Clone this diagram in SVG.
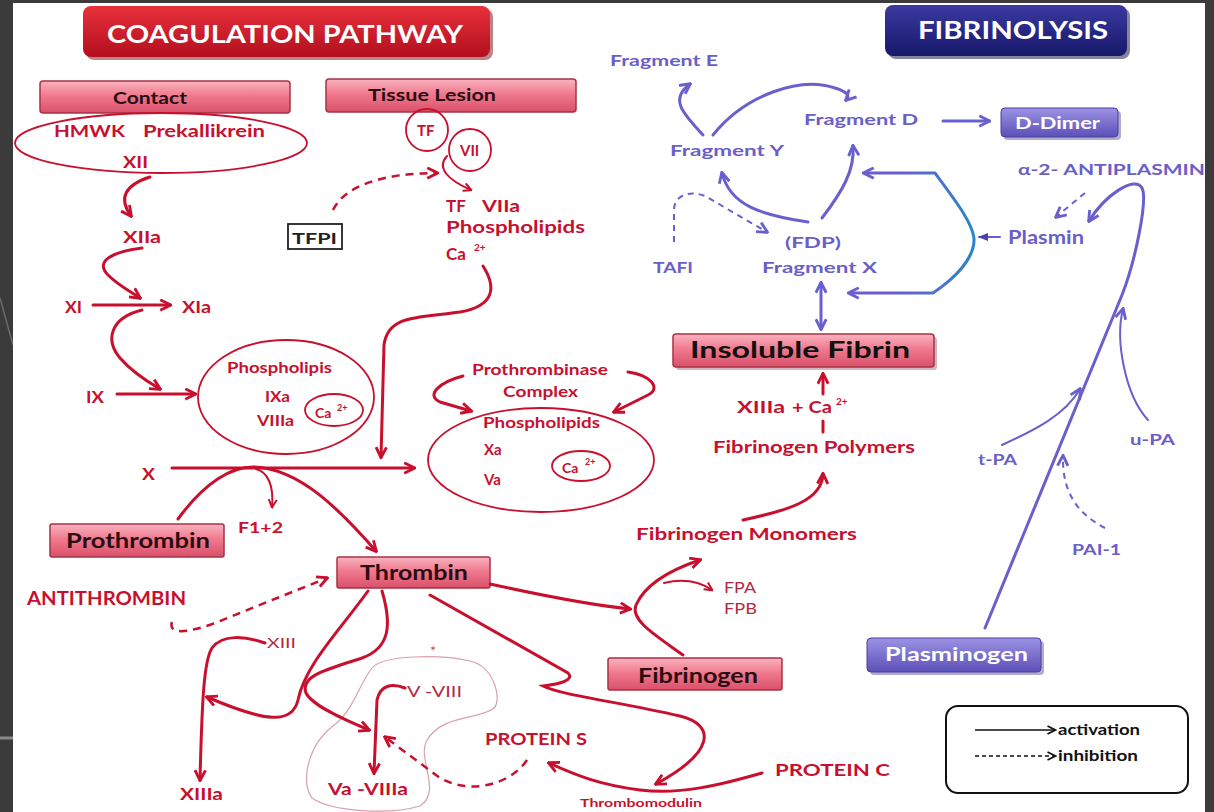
<svg xmlns="http://www.w3.org/2000/svg" width="1214" height="812" viewBox="0 0 1214 812">
<defs>
<linearGradient id="gPink" x1="0" y1="0" x2="0" y2="1"><stop offset="0" stop-color="#f9b3bf"/><stop offset="0.45" stop-color="#f07a8f"/><stop offset="1" stop-color="#d9506a"/></linearGradient>
<linearGradient id="gRed" x1="0" y1="0" x2="0" y2="1"><stop offset="0" stop-color="#e8303c"/><stop offset="1" stop-color="#b30f1e"/></linearGradient>
<linearGradient id="gNavy" x1="0" y1="0" x2="0" y2="1"><stop offset="0" stop-color="#3a3aa0"/><stop offset="1" stop-color="#17176a"/></linearGradient>
<linearGradient id="gPurp" x1="0" y1="0" x2="0" y2="1"><stop offset="0" stop-color="#9c92e4"/><stop offset="1" stop-color="#5c50b8"/></linearGradient>
<linearGradient id="gBr" gradientUnits="userSpaceOnUse" x1="900" y1="0" x2="975" y2="0"><stop offset="0" stop-color="#6a5fcf"/><stop offset="1" stop-color="#2a86c8"/></linearGradient>
<marker id="aR" viewBox="0 0 10 10" refX="8.5" refY="5" markerWidth="13" markerHeight="13" markerUnits="userSpaceOnUse" orient="auto-start-reverse"><path d="M1,1 L9,5 L1,9" fill="none" stroke="#c8102e" stroke-width="2.2" stroke-linejoin="miter"/></marker>
<marker id="aRs" viewBox="0 0 10 10" refX="8.5" refY="5" markerWidth="10" markerHeight="10" markerUnits="userSpaceOnUse" orient="auto"><path d="M1,1 L9,5 L1,9" fill="none" stroke="#c8102e" stroke-width="2"/></marker>
<marker id="aP" viewBox="0 0 10 10" refX="8.5" refY="5" markerWidth="13" markerHeight="13" markerUnits="userSpaceOnUse" orient="auto-start-reverse"><path d="M1,1 L9,5 L1,9" fill="none" stroke="#6a5fcf" stroke-width="2.2"/></marker>
<marker id="aPf" viewBox="0 0 10 10" refX="9" refY="5" markerWidth="10" markerHeight="10" markerUnits="userSpaceOnUse" orient="auto"><path d="M0,1 L10,5 L0,9 Z" fill="#4a40b0"/></marker>
<marker id="aK" viewBox="0 0 10 10" refX="8.5" refY="5" markerWidth="10" markerHeight="10" markerUnits="userSpaceOnUse" orient="auto"><path d="M1,1 L9,5 L1,9" fill="none" stroke="#111" stroke-width="1.8"/></marker>
</defs>
<style>
text{font-family:Lato,"Liberation Sans",sans-serif;font-weight:bold}
.r{fill:#c8102e;font-size:17px}
.rs{fill:#c8102e;font-size:15px}
.rt{fill:#b52a3e;font-size:14px;font-weight:normal}
.p{fill:#6a5ec8;font-size:16px}
.dk{fill:#2a0d12;font-size:18px}
.sup{fill:#c8102e;font-size:9px}
.w{fill:#fff}
.bx{fill:url(#gPink);stroke:#a83246;stroke-width:1.5}
.l{fill:none;stroke:#c8102e;stroke-width:3;stroke-linecap:round}
.lt{fill:none;stroke:#c8102e;stroke-width:2;stroke-linecap:round}
.ld{fill:none;stroke:#c8102e;stroke-width:2.5;stroke-dasharray:8 6}
.pl{fill:none;stroke:#6a5fcf;stroke-width:3;stroke-linecap:round}
.plt{fill:none;stroke:#6a5fcf;stroke-width:2;stroke-linecap:round}
.pd{fill:none;stroke:#6a5fcf;stroke-width:2;stroke-dasharray:6 5}
.el{fill:none;stroke:#c8102e;stroke-width:1.8}
</style>
<rect x="0" y="0" width="1214" height="812" fill="#3b3b3b"/>
<path d="M0,298 L13,345" stroke="#6a6a6a" stroke-width="1.5"/>
<path d="M0,738 L13,738" stroke="#8a8a8a" stroke-width="3"/>
<rect x="13" y="3" width="1192" height="809" fill="#ffffff"/>

<g id="title-coag"><rect x="86" y="9" width="407" height="51" rx="8" fill="#7a0a14" opacity="0.5"/><rect x="83" y="6" width="407" height="51" rx="8" fill="url(#gRed)"/><text class="w" x="107" y="43" style="font-size:25px" textLength="356" lengthAdjust="spacingAndGlyphs">COAGULATION PATHWAY</text></g>
<g id="title-fib"><rect x="888" y="8" width="242" height="51" rx="8" fill="#0a0a3a" opacity="0.5"/><rect x="885" y="5" width="242" height="51" rx="8" fill="url(#gNavy)"/><text class="w" x="918" y="39" style="font-size:24px" textLength="190" lengthAdjust="spacingAndGlyphs">FIBRINOLYSIS</text></g>

<g id="contact"><rect class="bx" x="40" y="81" width="250" height="32" rx="3"/><text class="dk" x="113" y="104" style="font-size:17px" textLength="74" lengthAdjust="spacingAndGlyphs">Contact</text></g>
<g id="contact-group"><ellipse class="el" cx="161" cy="143" rx="146" ry="30"/><text class="r" x="54" y="137" textLength="71" lengthAdjust="spacingAndGlyphs">HMWK</text><text class="r" x="143" y="137" textLength="122" lengthAdjust="spacingAndGlyphs">Prekallikrein</text><text class="r" x="123" y="168" textLength="25" lengthAdjust="spacingAndGlyphs">XII</text></g>
<g id="xiia"><text class="r" x="123" y="243" textLength="38" lengthAdjust="spacingAndGlyphs">XIIa</text></g>
<g id="xi"><text class="r" x="65" y="313" textLength="17" lengthAdjust="spacingAndGlyphs">XI</text></g>
<g id="xia"><text class="r" x="182" y="313" textLength="29" lengthAdjust="spacingAndGlyphs">XIa</text></g>
<g id="ix"><text class="r" x="86" y="403" textLength="18" lengthAdjust="spacingAndGlyphs">IX</text></g>
<g id="tenase"><ellipse class="el" cx="286" cy="397" rx="88" ry="57"/><text class="rs" x="227" y="373" textLength="105" lengthAdjust="spacingAndGlyphs">Phospholipis</text><text class="rs" x="265" y="402" textLength="25" lengthAdjust="spacingAndGlyphs">IXa</text><text class="rs" x="257" y="426" textLength="37" lengthAdjust="spacingAndGlyphs">VIIIa</text><ellipse class="el" cx="334" cy="410" rx="29" ry="16"/><text class="rs" x="315" y="418" style="font-size:14px">Ca</text><text class="sup" x="337" y="411">2+</text></g>
<g id="x"><text class="r" x="142" y="480" textLength="13" lengthAdjust="spacingAndGlyphs">X</text></g>
<g id="tissue"><rect class="bx" x="326" y="79" width="250" height="33" rx="3"/><text class="dk" x="368" y="101" style="font-size:17px" textLength="128" lengthAdjust="spacingAndGlyphs">Tissue Lesion</text></g>
<g id="tf"><circle class="el" cx="427" cy="130" r="21"/><text class="rs" x="417" y="136">TF</text></g>
<g id="vii"><circle class="el" cx="470" cy="150" r="21"/><text class="rs" x="460" y="156">VII</text></g>
<g id="tfviia"><text class="r" x="446" y="212">TF</text><text class="r" x="482" y="212" textLength="38" lengthAdjust="spacingAndGlyphs">VIIa</text><text class="r" x="446" y="233" textLength="139" lengthAdjust="spacingAndGlyphs">Phospholipids</text><text class="r" x="446" y="260">Ca</text><text class="sup" x="474" y="251" style="font-size:10px">2+</text></g>
<g id="tfpi"><rect x="288" y="224" width="54" height="25" fill="#fff" stroke="#222" stroke-width="1.8"/><text x="292" y="244" style="font-size:15px" fill="#222" textLength="45" lengthAdjust="spacingAndGlyphs">TFPI</text></g>
<g id="prothrombinase"><text class="rs" x="472" y="375" textLength="136" lengthAdjust="spacingAndGlyphs">Prothrombinase</text><text class="rs" x="503" y="397" textLength="75" lengthAdjust="spacingAndGlyphs">Complex</text><ellipse class="el" cx="541" cy="460" rx="113" ry="52"/><text class="rs" x="483" y="428" textLength="117" lengthAdjust="spacingAndGlyphs">Phospholipids</text><text class="rs" x="484" y="455">Xa</text><text class="rs" x="484" y="485">Va</text><ellipse class="el" cx="581" cy="466" rx="29" ry="15"/><text class="rs" x="562" y="473" style="font-size:14px">Ca</text><text class="sup" x="585" y="465">2+</text></g>
<g id="f12"><text class="r" x="238" y="533" style="font-size:16px" textLength="45" lengthAdjust="spacingAndGlyphs">F1+2</text></g>
<g id="prothrombin"><rect class="bx" x="50" y="524" width="174" height="33" rx="2"/><text class="dk" x="66" y="548" style="font-size:20px" textLength="144" lengthAdjust="spacingAndGlyphs">Prothrombin</text></g>
<g id="thrombin"><rect class="bx" x="337" y="557" width="153" height="31" rx="2"/><text class="dk" x="360" y="580" style="font-size:20px" textLength="108" lengthAdjust="spacingAndGlyphs">Thrombin</text></g>
<g id="antithrombin"><text class="r" x="27" y="605" style="font-size:18px" textLength="159" lengthAdjust="spacingAndGlyphs">ANTITHROMBIN</text></g>
<g id="xiii"><text class="rt" x="267" y="648" textLength="29" lengthAdjust="spacingAndGlyphs">XIII</text></g>
<g id="xiiia"><text class="r" x="180" y="800" textLength="43" lengthAdjust="spacingAndGlyphs">XIIIa</text></g>
<g id="cofactors"><path d="M372,668 C382,655 440,654 470,661 C495,667 502,700 494,708 C480,720 440,714 426,742 C418,760 442,792 420,806 C390,815 332,812 312,798 C300,782 308,745 333,726 C354,710 358,686 372,668 Z" fill="none" stroke="#d8a0aa" stroke-width="1.2"/><text x="430" y="656" style="font-size:14px;font-weight:normal" fill="#c04050">*</text><text class="rt" x="407" y="697" style="font-size:16px" textLength="55" lengthAdjust="spacingAndGlyphs">V -VIII</text><text class="r" x="328" y="795" textLength="80" lengthAdjust="spacingAndGlyphs">Va -VIIIa</text></g>
<g id="protein-s"><text class="r" x="485" y="745" textLength="102" lengthAdjust="spacingAndGlyphs">PROTEIN S</text></g>
<g id="protein-c"><text class="r" x="775" y="776" textLength="115" lengthAdjust="spacingAndGlyphs">PROTEIN C</text></g>
<g id="thrombomodulin"><text class="r" x="580" y="807" style="font-size:12px" textLength="122" lengthAdjust="spacingAndGlyphs">Thrombomodulin</text></g>
<g id="fpa"><text class="rt" x="724" y="593" style="font-size:16px" textLength="32" lengthAdjust="spacingAndGlyphs">FPA</text><text class="rt" x="724" y="614" style="font-size:16px" textLength="33" lengthAdjust="spacingAndGlyphs">FPB</text></g>
<g id="fibrinogen"><rect class="bx" x="608" y="658" width="174" height="32" rx="2"/><text class="dk" x="638" y="683" style="font-size:21px" textLength="120" lengthAdjust="spacingAndGlyphs">Fibrinogen</text></g>
<g id="monomers"><text class="r" x="636" y="540" textLength="221" lengthAdjust="spacingAndGlyphs">Fibrinogen Monomers</text></g>
<g id="polymers"><text class="r" x="713" y="453" textLength="202" lengthAdjust="spacingAndGlyphs">Fibrinogen Polymers</text></g>
<g id="xiiia-ca"><text class="r" x="737" y="413" textLength="48" lengthAdjust="spacingAndGlyphs">XIIIa</text><text class="r" x="792" y="413" textLength="40" lengthAdjust="spacingAndGlyphs">+ Ca</text><text class="sup" x="836" y="405" style="font-size:10px">2+</text></g>
<g id="insoluble-fibrin"><rect x="676" y="337" width="261" height="33" rx="3" fill="#8a2a3a" opacity="0.35"/><rect class="bx" x="673" y="334" width="261" height="33" rx="3"/><text x="690" y="358" style="font-size:22px" fill="#111" textLength="220" lengthAdjust="spacingAndGlyphs">Insoluble Fibrin</text></g>

<g id="frag-e"><text class="p" x="610" y="66" textLength="108" lengthAdjust="spacingAndGlyphs">Fragment E</text></g>
<g id="frag-d"><text class="p" x="804" y="125" textLength="114" lengthAdjust="spacingAndGlyphs">Fragment D</text></g>
<g id="frag-y"><text class="p" x="670" y="156" textLength="114" lengthAdjust="spacingAndGlyphs">Fragment Y</text></g>
<g id="frag-x"><text class="p" x="785" y="248" textLength="56" lengthAdjust="spacingAndGlyphs">(FDP)</text><text class="p" x="762" y="273" textLength="115" lengthAdjust="spacingAndGlyphs">Fragment X</text></g>
<g id="tafi"><text class="p" x="653" y="273" textLength="40" lengthAdjust="spacingAndGlyphs">TAFI</text></g>
<g id="d-dimer"><rect x="1004" y="111" width="117" height="29" rx="4" fill="#3a2f80" opacity="0.4"/><rect x="1001" y="108" width="117" height="29" rx="4" fill="url(#gPurp)" stroke="#4a3fa0" stroke-width="1"/><text class="w" x="1015" y="129" style="font-size:17px" textLength="85" lengthAdjust="spacingAndGlyphs">D-Dimer</text></g>
<g id="antiplasmin"><text class="p" x="1018" y="175" textLength="187" lengthAdjust="spacingAndGlyphs">α-2- ANTIPLASMIN</text></g>
<g id="plasmin"><text class="p" x="1008" y="244" style="font-size:18px" textLength="76" lengthAdjust="spacingAndGlyphs">Plasmin</text></g>
<g id="tpa"><text class="p" x="978" y="465" textLength="39" lengthAdjust="spacingAndGlyphs">t-PA</text></g>
<g id="upa"><text class="p" x="1130" y="445" textLength="45" lengthAdjust="spacingAndGlyphs">u-PA</text></g>
<g id="pai1"><text class="p" x="1072" y="555" textLength="49" lengthAdjust="spacingAndGlyphs">PAI-1</text></g>
<g id="plasminogen"><rect x="870" y="641" width="174" height="34" rx="4" fill="#3a2f80" opacity="0.4"/><rect x="867" y="638" width="174" height="34" rx="4" fill="url(#gPurp)" stroke="#4a3fa0" stroke-width="1"/><text class="w" x="885" y="661" style="font-size:19px" textLength="143" lengthAdjust="spacingAndGlyphs">Plasminogen</text></g>
<g id="legend"><rect x="946" y="706" width="242" height="87" rx="12" fill="#fff" stroke="#111" stroke-width="2"/><path d="M975,730 L1055,730" stroke="#111" stroke-width="1.3" marker-end="url(#aK)"/><path d="M975,756 L1055,756" stroke="#111" stroke-width="1.3" stroke-dasharray="4 3" marker-end="url(#aK)"/><text x="1058" y="735" style="font-size:15px" fill="#111" textLength="82" lengthAdjust="spacingAndGlyphs">activation</text><text x="1058" y="761" style="font-size:15px" fill="#111" textLength="80" lengthAdjust="spacingAndGlyphs">inhibition</text></g>

<g id="connectors">
<path class="l" d="M150,177 C125,185 118,198 131,216" marker-end="url(#aR)"/>
<path class="l" d="M142,248 C110,252 95,262 108,275 C118,285 128,290 140,298" marker-end="url(#aR)"/>
<path class="l" d="M93,305 L170,305" marker-end="url(#aR)"/>
<path class="l" d="M142,310 C110,318 105,340 120,358 C132,372 148,382 160,389" marker-end="url(#aR)"/>
<path class="l" d="M117,394 L195,394" marker-end="url(#aR)"/>
<path class="l" d="M483,266 C497,288 494,306 460,312 C420,318 388,314 384,345 L381,457" marker-end="url(#aR)"/>
<path class="l" d="M172,468 L414,468" marker-end="url(#aR)"/>
<path class="l" d="M178,519 C205,482 232,466 255,467 C300,469 340,510 376,551" marker-end="url(#aR)"/>
<path class="lt" d="M256,469 C268,472 274,486 272,507" marker-end="url(#aRs)"/>
<path class="ld" d="M333,210 C345,185 385,173 437,173" marker-end="url(#aR)"/>
<path class="lt" d="M447,156 C436,168 448,180 471,190" marker-end="url(#aRs)"/>
<path class="l" d="M463,376 C440,382 425,395 440,402 L471,411" marker-end="url(#aR)"/>
<path class="l" d="M628,372 C650,375 662,388 648,395 L614,412" marker-end="url(#aR)"/>
<path class="ld" d="M172,622 C168,634 185,634 215,623 L327,578" marker-end="url(#aR)"/>
<path class="l" d="M265,643 C245,636 222,634 212,648 C204,660 202,700 200,780" marker-end="url(#aR)"/>
<path class="l" d="M368,591 C340,630 305,665 298,700 C292,725 265,722 207,697" marker-end="url(#aR)"/>
<path class="l" d="M382,591 C392,625 390,648 362,658 C325,670 300,676 306,693 C312,705 340,718 369,730" marker-end="url(#aR)"/>
<path class="l" d="M405,688 C392,683 380,685 377,700 L374,773" marker-end="url(#aR)"/>
<path class="ld" d="M527,760 C510,785 470,795 440,778 L385,737" marker-end="url(#aR)"/>
<path class="l" d="M430,595 L568,673 C575,680 560,684 543,686 C560,695 620,702 680,716 C716,725 715,752 656,784" marker-end="url(#aR)"/>
<path class="l" d="M762,773 C720,785 680,795 640,790 C600,785 575,775 549,763" marker-end="url(#aR)"/>
<path class="l" d="M490,584 C540,595 590,605 630,609" marker-end="url(#aR)"/>
<path class="l" d="M683,655 C655,635 630,620 636,605 C645,585 670,570 700,560" marker-end="url(#aR)"/>
<path class="lt" d="M664,583 C685,578 700,582 712,590" marker-end="url(#aRs)"/>
<path class="l" d="M743,520 C790,510 822,500 823,474" marker-end="url(#aR)"/>
<path class="l" d="M823,394 L823,374" marker-end="url(#aR)"/>
<path class="l" d="M823,421 L823,432"/>

<path class="pl" d="M703,135 C685,115 668,100 690,84" marker-end="url(#aP)"/>
<path class="pl" d="M713,135 C745,95 800,76 835,88 C848,92 850,96 846,100" marker-end="url(#aP)"/>
<path class="pl" d="M808,222 C760,215 730,205 722,173" marker-end="url(#aP)"/>
<path class="pl" d="M822,218 C842,192 855,170 853,146" marker-end="url(#aP)"/>
<path class="pd" d="M674,242 L674,210 C674,195 690,190 705,196 L767,232" marker-end="url(#aP)"/>
<path fill="none" stroke="url(#gBr)" stroke-width="3" d="M974,238 C972,222 955,200 935,173 L864,173" marker-end="url(#aP)"/>
<path fill="none" stroke="url(#gBr)" stroke-width="3" d="M974,238 C975,258 955,278 933,293 L849,293" marker-end="url(#aP)"/>
<path class="pl" d="M821,283 L821,329" marker-start="url(#aP)" marker-end="url(#aP)"/>
<path class="pl" d="M943,121 L989,121" marker-end="url(#aP)"/>
<path class="plt" stroke-width="3" d="M1000,237 L979,237" marker-end="url(#aPf)"/>
<path class="pd" d="M1085,193 L1056,217" marker-end="url(#aP)"/>
<path class="pl" d="M985,628 L1122,295 C1135,262 1148,200 1142,188 C1135,175 1105,195 1089,221" marker-end="url(#aP)"/>
<path class="plt" d="M1002,445 C1035,430 1065,415 1080,389" marker-end="url(#aP)"/>
<path class="plt" d="M1148,420 C1125,395 1115,340 1123,309" marker-end="url(#aP)"/>
<path class="pd" d="M1105,528 C1080,515 1062,495 1063,456" marker-end="url(#aP)"/>
</g>
</svg>
